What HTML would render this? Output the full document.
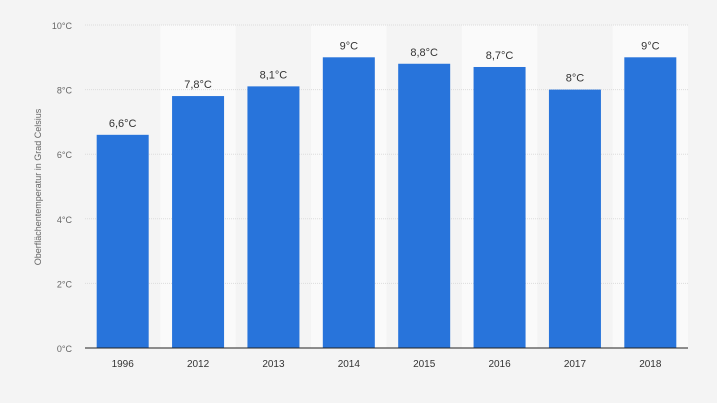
<!DOCTYPE html>
<html><head><meta charset="utf-8"><style>
body{margin:0;background:#f4f4f4;}
svg{display:block;font-family:"Liberation Sans",sans-serif;}
</style></head><body>
<svg id="chart" width="717" height="403" viewBox="0 0 717 403"></svg>
<script>
const categories=["1996","2012","2013","2014","2015","2016","2017","2018"];
const values=[6.6,7.8,8.1,9,8.8,8.7,8,9];
const valueLabels=["6,6°C","7,8°C","8,1°C","9°C","8,8°C","8,7°C","8°C","9°C"];
const yTicks=[0,2,4,6,8,10];
const yTickLabels=["0°C","2°C","4°C","6°C","8°C","10°C"];
const NS="http://www.w3.org/2000/svg";
const svg=document.getElementById('chart');
const L=85,R=688,T=25,B=348;
const y=v=>B-(v/10)*(B-T);
const bw=(R-L)/categories.length;
const x=i=>L+i*bw;
function mk(t,a,p){const e=document.createElementNS(NS,t);for(const k in a)e.setAttribute(k,a[k]);(p||svg).appendChild(e);return e;}
categories.forEach((c,i)=>{if(i%2===1){const s=mk('rect',{x:x(i),y:T,width:bw,height:B-T,fill:'#fafafa'});

}});
yTicks.forEach((t,i)=>{
 if(t>0){const g=mk('line',{x1:L,x2:R,y1:y(t),y2:y(t),stroke:'#dcdcdc','stroke-dasharray':'1,1'});
 
 }
 const tl=mk('text',{x:72,y:y(t)+4,'text-anchor':'end','font-size':9,fill:'#666'});tl.textContent=yTickLabels[i];
 
 
});
categories.forEach((c,i)=>{
 const cx=x(i)+bw/2;
 const b=mk('rect',{x:cx-26,y:y(values[i]),width:52,height:B-y(values[i]),fill:'#2874db'});
 
 
 const v=mk('text',{x:cx,y:y(values[i])-8,'text-anchor':'middle','font-size':11,fill:'#333'});v.textContent=valueLabels[i];
 
 
 const xl=mk('text',{x:cx,y:367,'text-anchor':'middle','font-size':10,fill:'#333'});xl.textContent=c;
 
 
});
const ax=mk('line',{x1:L,x2:R,y1:B,y2:B,stroke:'#222','stroke-width':1});


const at=mk('text',{x:0,y:0,transform:'translate(41,187) rotate(-90)','text-anchor':'middle','font-size':9,fill:'#666'});
at.textContent='Oberflächentemperatur in Grad Celsius';


</script>
</body></html>
